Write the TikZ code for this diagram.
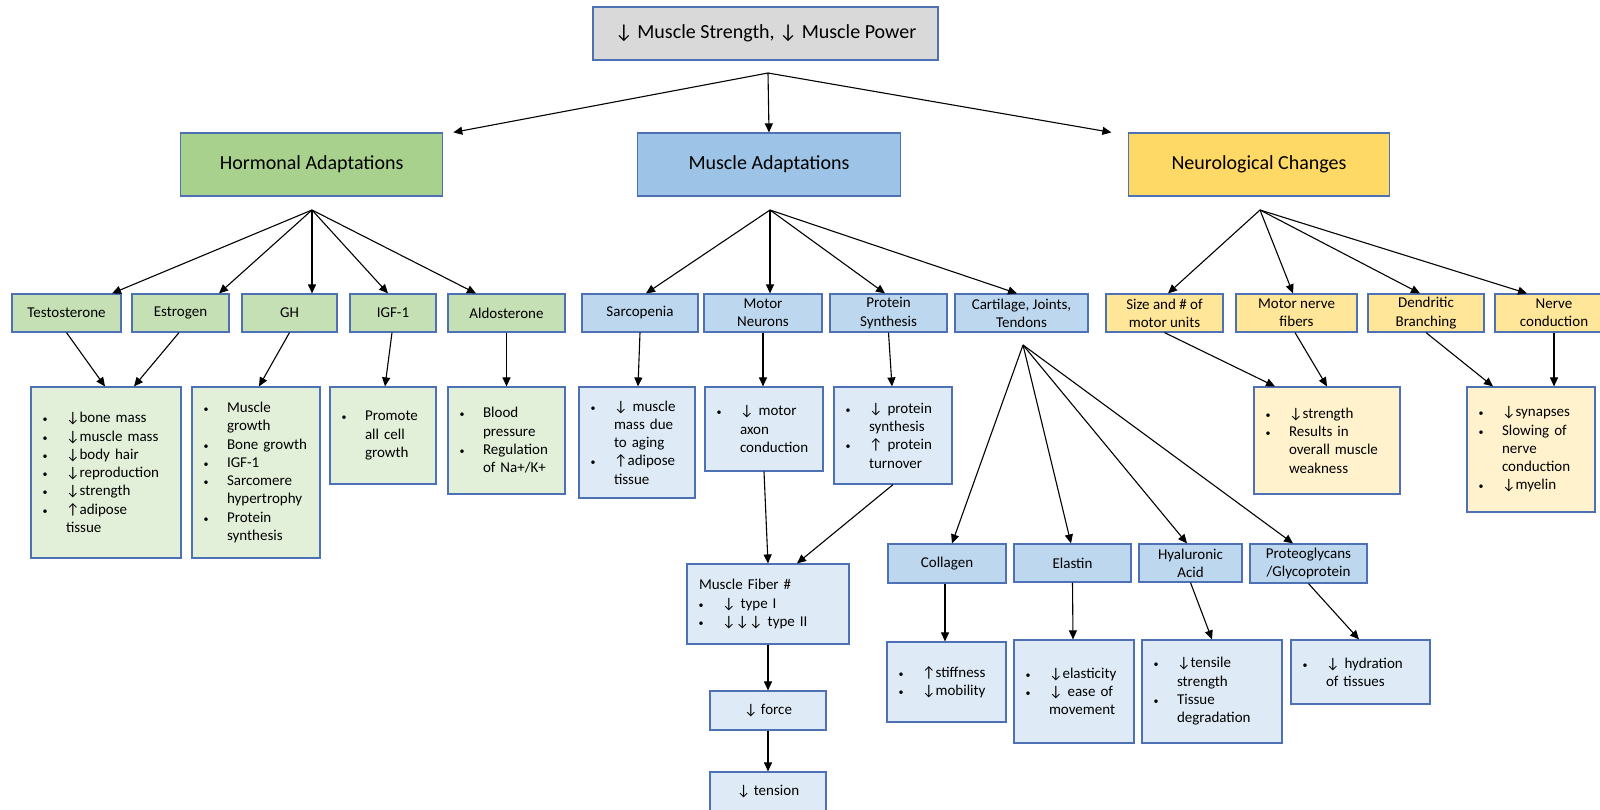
\documentclass[tikz,border=0pt]{standalone}
\usepackage{fontspec}
\setmainfont{Carlito}
\newfontfamily\arrf{Carlito}
\usetikzlibrary{arrows.meta}
\newcommand\dn{{\arrf ↓}}
\newcommand\upa{{\arrf ↑}}
\newcommand\bul{{\fontsize{10}{10}\selectfont•}}
\newcommand\itb[1]{\hspace*{11.5pt}\makebox[23.5pt][l]{\bul}#1}
\newcommand\itc[1]{\hspace*{35pt}#1}
\definecolor{bd}{HTML}{4E71B5}
\definecolor{gry}{HTML}{D9D9D9}
\definecolor{hhd}{HTML}{A9D18E}
\definecolor{hsb}{HTML}{C5E0B4}
\definecolor{hdt}{HTML}{E2F0D9}
\definecolor{mhd}{HTML}{9DC3E6}
\definecolor{msb}{HTML}{BDD7EE}
\definecolor{mdt}{HTML}{DEEBF7}
\definecolor{nhd}{HTML}{FFD966}
\definecolor{nsb}{HTML}{FFE699}
\definecolor{ndt}{HTML}{FFF2CC}
\AtBeginDocument{\hyphenpenalty=10000 \exhyphenpenalty=10000 }
\begin{document}
\begin{tikzpicture}[x=1pt,y=-1pt,
  box/.style={draw=bd, line width=1.2pt, inner sep=0pt, align=center,
    font=\fontsize{15}{18.3}\selectfont},
  big/.style={box, font=\fontsize{20}{24}\selectfont},
  sz/.style 2 args={minimum width=#1pt, minimum height=#2pt},
  dt/.style 2 args={minimum width=#1pt, text width=#1pt, minimum height=#2pt, align=left},
  arr/.style={-{Triangle[length=9pt,width=8pt]}, line width=1.1pt, black}]
\fill[white] (0,0) rectangle (1600,809);
\useasboundingbox (0,0) rectangle (1600,809);

% level 0 and 1
\node[big, fill=gry, sz={345}{53}] (top) at (765.5,33.5) {\dn{} Muscle Strength, \dn{} Muscle Power};
\node[big, fill=hhd, sz={262}{63}] (hor) at (311.7,164.5) {Hormonal Adaptations};
\node[big, fill=mhd, sz={263}{63}] (mus) at (769,164.5) {Muscle Adaptations};
\node[big, fill=nhd, sz={261}{63}] (neu) at (1259,164.5) {Neurological Changes};

\coordinate (h0) at (768,73);
\coordinate (h1) at (312,210);
\coordinate (h2) at (770,210);
\coordinate (h3) at (1260,210);
\coordinate (h4) at (1023,345);

% level 2
\node[box, fill=hsb, sz={109}{38}] (tes) at (66.5,313) {Testosterone};
\node[box, fill=hsb, sz={97}{38}] (est) at (180.5,313) {Estrogen};
\node[box, fill=hsb, sz={95}{38}] (gh) at (289.5,313) {GH};
\node[box, fill=hsb, sz={86}{38}] (igf) at (393,313) {IGF-1};
\node[box, fill=hsb, sz={117}{38}] (ald) at (506.5,313) {Aldosterone};

\node[box, fill=msb, sz={116}{38}] (sar) at (640,313) {Sarcopenia};
\node[box, fill=msb, sz={118}{38}] (mn) at (763,313) {Motor\\Neurons};
\node[box, fill=msb, sz={117}{38}] (ps) at (888.5,313) {Protein\\Synthesis};
\node[box, fill=msb, sz={133}{38}] (car) at (1021.5,313) {Cartilage, Joints,\\Tendons};

\node[box, fill=nsb, sz={117}{38}] (siz) at (1164.5,313) {Size and \# of\\motor units};
\node[box, fill=nsb, sz={121}{38}] (mnf) at (1296.5,313) {Motor nerve\\fibers};
\node[box, fill=nsb, sz={116}{38}] (den) at (1426,313) {Dendritic\\Branching};
\node[box, fill=nsb, sz={118}{38}] (nc) at (1554,313) {Nerve\\conduction};

% level 3 hormonal
\node[box, fill=hdt, dt={150}{171}] (d1) at (106,472.5)
 {\itb{\dn bone mass}\\\itb{\dn muscle mass}\\\itb{\dn body hair}\\\itb{\dn reproduction}\\\itb{\dn strength}\\\itb{\upa adipose}\\\itc{tissue}};
\node[box, fill=hdt, dt={128}{171}] (d2) at (256,472.5)
 {\itb{Muscle}\\\itc{growth}\\\itb{Bone growth}\\\itb{IGF-1}\\\itb{Sarcomere}\\\itc{hypertrophy}\\\itb{Protein}\\\itc{synthesis}};
\node[box, fill=hdt, dt={106}{97}] (d3) at (383,435.5)
 {\itb{Promote}\\\itc{all cell}\\\itc{growth}};
\node[box, fill=hdt, dt={117}{107}] (d4) at (506.5,440.5)
 {\itb{Blood}\\\itc{pressure}\\\itb{Regulation}\\\itc{of Na+/K+}};

% level 3 muscle
\node[box, fill=mdt, dt={116}{111}] (d5) at (637,442.5)
 {\itb{\dn{} muscle}\\\itc{mass due}\\\itc{to aging}\\\itb{\upa adipose}\\\itc{tissue}};
\node[box, fill=mdt, dt={118}{84}] (d6) at (764,429)
 {\itb{\dn{} motor}\\\itc{axon}\\\itc{conduction}};
\node[box, fill=mdt, dt={118}{97}] (d7) at (893,435.5)
 {\itb{\dn{} protein}\\\itc{synthesis}\\\itb{\upa{} protein}\\\itc{turnover}};
\node[box, fill=mdt, dt={162}{80}] (fib) at (768,604)
 {\hspace*{12pt}Muscle Fiber \#\\\itb{\dn{} type I}\\\itb{\dn\dn\dn{} type II}};
\node[box, fill=mdt, sz={116}{39}] (frc) at (768,710.5) {\dn{} force};
\node[box, fill=mdt, sz={116}{40}] (ten) at (768,792) {\dn{} tension};

\node[box, fill=msb, sz={118}{39}] (col) at (947,563.5) {Collagen};
\node[box, fill=msb, sz={117}{38}] (ela) at (1072.5,563) {Elastin};
\node[box, fill=msb, sz={103}{38}] (hya) at (1190.5,563) {Hyaluronic\\Acid};
\node[box, fill=msb, sz={117}{39}] (pro) at (1308.5,563.5) {Proteoglycans\\/Glycoprotein};

\node[box, fill=mdt, dt={119}{80}] (d8) at (946.5,682)
 {\itb{\upa stiffness}\\\itb{\dn mobility}};
\node[box, fill=mdt, dt={120}{103}] (d9) at (1074,691.5)
 {\itb{\dn elasticity}\\\itb{\dn{} ease of}\\\itc{movement}};
\node[box, fill=mdt, dt={140}{103}] (d10) at (1212,691.5)
 {\itb{\dn tensile}\\\itc{strength}\\\itb{Tissue}\\\itc{degradation}};
\node[box, fill=mdt, dt={139}{64}] (d11) at (1360.5,672)
 {\itb{\dn{} hydration}\\\itc{of tissues}};

% level 3 neuro
\node[box, fill=ndt, dt={146}{107}] (d12) at (1327,440.5)
 {\itb{\dn strength}\\\itb{Results in}\\\itc{overall muscle}\\\itc{weakness}};
\node[box, fill=ndt, dt={128}{125}] (d13) at (1531,449.5)
 {\itb{\dn synapses}\\\itb{Slowing of}\\\itc{nerve}\\\itc{conduction}\\\itb{\dn myelin}};

% connectors level 0 -> 1
\draw[arr] (h0) -- ([xshift=10pt]hor.north east);
\draw[arr] (h0) -- (mus.north);
\draw[arr] (h0) -- ([xshift=-16.5pt]neu.north west);

% level 1 -> 2
\draw[arr] (h1) -- ([xshift=45.5pt]tes.north);
\draw[arr] (h1) -- ([xshift=38.5pt]est.north);
\draw[arr] (h1) -- ([xshift=22.5pt]gh.north);
\draw[arr] (h1) -- ([xshift=-5pt]igf.north);
\draw[arr] (h1) -- ([xshift=-30.5pt]ald.north);

\draw[arr] (h2) -- ([xshift=6pt]sar.north);
\draw[arr] (h2) -- ([xshift=7pt]mn.north);
\draw[arr] (h2) -- ([xshift=-3.5pt]ps.north);
\draw[arr] (h2) -- ([xshift=-4.5pt]car.north);

\draw[arr] (h3) -- ([xshift=3.5pt]siz.north);
\draw[arr] (h3) -- ([xshift=-3.5pt]mnf.north);
\draw[arr] (h3) -- ([xshift=-6pt]den.north);
\draw[arr] (h3) -- ([xshift=-27pt]nc.north);

% level 2 -> 3
\draw[arr] (tes.south) -- ([xshift=-1pt]d1.north);
\draw[arr] ([xshift=-1.5pt]est.south) -- ([xshift=28pt]d1.north);
\draw[arr] (gh.south) -- ([xshift=3pt]d2.north);
\draw[arr] ([xshift=-1pt]igf.south) -- ([xshift=2pt]d3.north);
\draw[arr] (ald.south) -- (d4.north);

\draw[arr] (sar.south) -- ([xshift=1pt]d5.north);
\draw[arr] (mn.south) -- ([xshift=-1pt]d6.north);
\draw[arr] (ps.south) -- ([xshift=-1pt]d7.north);
\draw[arr] (d6.south) -- (fib.north);
\draw[arr] (d7.south) -- ([xshift=29pt]fib.north);
\draw[arr] (fib.south) -- (frc.north);
\draw[arr] (frc.south) -- (ten.north);

\draw[arr] (h4) -- ([xshift=5pt]col.north);
\draw[arr] (h4) -- ([xshift=-1.5pt]ela.north);
\draw[arr] (h4) -- ([xshift=-3.5pt]hya.north);
\draw[arr] (h4) -- ([xshift=-15.5pt]pro.north);

\draw[arr] ([xshift=-2pt]col.south) -- ([xshift=-1.5pt]d8.north);
\draw[arr] (ela.south) -- ([xshift=-1pt]d9.north);
\draw[arr] (hya.south) -- (d10.north);
\draw[arr] (pro.south) -- ([xshift=-1.5pt]d11.north);

\draw[arr] (siz.south) -- ([xshift=-52pt]d12.north);
\draw[arr] ([xshift=-1.5pt]mnf.south) -- (d12.north);
\draw[arr] (den.south) -- ([xshift=-38pt]d13.north);
\draw[arr] (nc.south) -- ([xshift=23pt]d13.north);
\end{tikzpicture}
\end{document}
